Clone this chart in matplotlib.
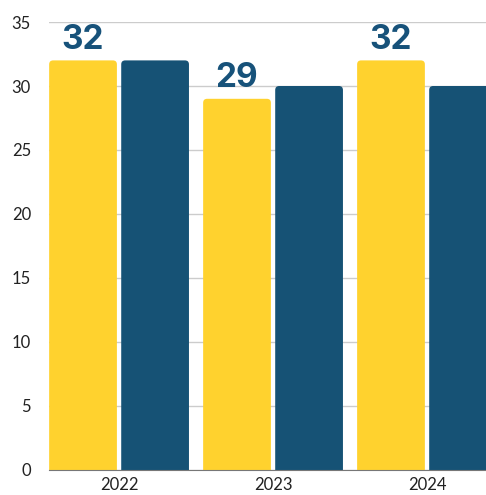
import matplotlib.pyplot as plt
from matplotlib.patches import FancyBboxPatch

years = ['2022', '2023', '2024']
series_a = [32, 29, 32]
series_b = [32, 30, 30]
labels_a = ['32', '29', '32']

yellow = '#FFD22E'
navy = '#165275'

fig = plt.figure(figsize=(4.86, 4.95), dpi=100)
ax = fig.add_axes([49/486, 25/495, 437/486, 448/495])

xmin, xmax = -0.455, 2.383
ymin, ymax = 0, 35
ax.set_xlim(xmin, xmax)
ax.set_ylim(ymin, ymax)

w = 0.44
off = 0.234
ax_w_px = 437
ax_h_px = 448
aspect = ((ymax - ymin) / ax_h_px) / ((xmax - xmin) / ax_w_px)
rad = 4 * (xmax - xmin) / ax_w_px

for i, (a, b) in enumerate(zip(series_a, series_b)):
    for x, v, c in [(i - off, a, yellow), (i + off, b, navy)]:
        p = FancyBboxPatch((x - w/2, -2), w, v + 2,
                           boxstyle=f"round,pad=0,rounding_size={rad}",
                           mutation_aspect=aspect, fc=c, ec='none', zorder=3)
        ax.add_patch(p)
    ax.annotate(labels_a[i], (i - off, a), xytext=(0, 3.5), textcoords='offset points',
                ha='center', va='bottom', fontsize=24, fontweight='bold',
                color='#17527A', family='Inter', zorder=4)

ax.set_yticks(range(0, 36, 5))
ax.set_xticks(range(len(years)))
ax.set_xticklabels(years)
ax.tick_params(length=0, labelsize=12, labelcolor='#222222')
ax.tick_params(axis='x', pad=5)
ax.tick_params(axis='y', pad=13)
for t in ax.get_xticklabels() + ax.get_yticklabels():
    t.set_family('Lato')
ax.grid(axis='y', color='#cccccc', linewidth=1, zorder=0)
for s in ['top', 'right', 'left']:
    ax.spines[s].set_visible(False)
ax.spines['bottom'].set_color('#777777')
ax.spines['bottom'].set_zorder(5)

fig.savefig('out.png', dpi=100)
